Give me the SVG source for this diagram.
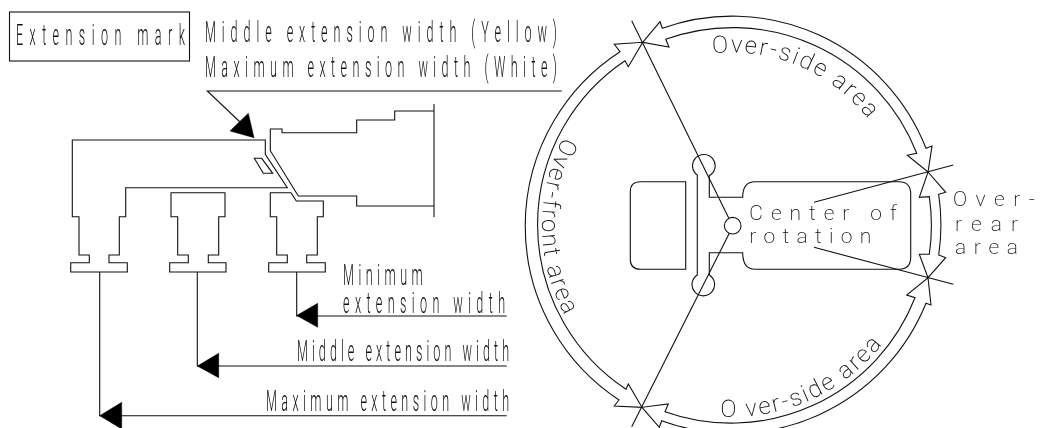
<svg xmlns="http://www.w3.org/2000/svg" width="1043" height="428" viewBox="0 0 1043 428">
<style>
.l{fill:none;stroke:#111;stroke-width:1.1}
.a{fill:#000;stroke:#000;stroke-width:.5}
.t{filter:url(#gray)}
text{font-family:Roboto,"Liberation Sans",sans-serif;font-weight:300;fill:#111}
.n{font-size:30px}
.w{font-size:24px;font-weight:200;letter-spacing:2.1px}
.c{font-size:21px;font-weight:200}
</style>
<defs><filter id="gray" filterUnits="userSpaceOnUse" x="0" y="0" width="1043" height="428" color-interpolation-filters="sRGB"><feOffset dx="0" dy="0"/></filter></defs>
<rect width="1043" height="428" fill="#fff"/>
<g id="extension-mark-box" class="t">
<rect class="l" x="9.5" y="12" width="180" height="49"/>
<text class="n" transform="translate(16,45) scale(.42,1)" textLength="402" lengthAdjust="spacing">Extension mark</text>
</g>
<g id="mark-labels" class="t">
<text class="n" transform="translate(205,41.7) scale(.42,1)" textLength="838" lengthAdjust="spacing">Middle extension width (Yellow)</text>
<text class="n" transform="translate(205,76.7) scale(.42,1)" textLength="838" lengthAdjust="spacing">Maximum extension width (White)</text>
</g>
<g id="width-labels" class="t">
<text class="n" transform="translate(343,285) scale(.42,1)" textLength="190" lengthAdjust="spacing">Minimum</text>
<text class="n" transform="translate(343,312.7) scale(.42,1)" textLength="386" lengthAdjust="spacing">extension width</text>
<text class="n" transform="translate(297,361) scale(.42,1)" textLength="505" lengthAdjust="spacing">Middle extension width</text>
<text class="n" transform="translate(266,411) scale(.42,1)" textLength="579" lengthAdjust="spacing">Maximum extension width</text>
</g>
<g id="machine-side">
<path class="l" d="M79 216.700H72.300V140H265.300V154.300L287.300 187.700H125.700V216.700H119.300V255H109V262.700H127.300V272H70.700V262.700H89.300V255H79Z"/>
<path class="l" d="M171 192.700H225V216.700H218.700V255H208.300V262.700H226V272H169.700V262.700H188.300V255H177.700V216.700H171Z"/>
<path class="l" d="M270.300 192.700H291L296.300 201H323.300V216.700H317.300V255H306.700V262.700H325.300V272H268.700V262.700H287.300V255H276.700V216.700H270.300Z"/>
<path class="l" d="M434 111H394.700V120H356.700V132.700H282V129H270.300V150.700L298.300 196H356.700V206H434"/>
<path class="l" d="M434 104V217"/>
<path class="l" d="M254.300 158.300H261.700L272.700 173.300H263.300Z"/>
</g>
<g id="machine-plan" class="t">
<path class="l" d="M685.700 181.700H640.300Q630.300 181.700 630.300 191.700V259.300Q630.300 269.300 640.300 269.300H685.700Z"/>
<path class="l" d="M697.300 175A11.300 11.300 0 1 1 709.300 175.700V197.300H742.700Q742.700 181.700 755 181.700H898.700Q910.700 181.700 910.700 193.700V257.300Q910.700 269.300 898.700 269.300H755Q742.700 269.300 742.700 252.700H709.300V275A11.300 11.300 0 1 1 697.300 275Z"/>
<circle class="l" cx="732.700" cy="225.700" r="8.300"/>
<text class="c" x="749.300" y="220" textLength="147.400" lengthAdjust="spacing">Center of</text>
<text class="c" x="749.300" y="243.300" textLength="122" lengthAdjust="spacing">rotation</text>
</g>
<g id="areas" class="t">
<path class="l" d="M662.300 28.300L660 21.700L642.700 42.300L669 47L665.700 39.300A197.500 197.500 0 0 1 916.700 153.300L907.300 155.300L928 172L932 146L926 148.300A208 208 0 0 0 662.300 28.300Z"/>
<path class="l" d="M938.700 194.300L945.700 192.300L928 172L919.300 197.300L929.300 196.700A197.500 197.500 0 0 1 929.300 254.300L919.300 254.300L928 277.700L945.700 257.700L938.700 255A208 208 0 0 0 938.700 194.300Z"/>
<path class="l" d="M620 51.700L614.300 44.300L642.700 42.300L628.300 66.700L625 60.700A197.500 197.500 0 0 0 626 389.300L628.300 384L642 407.300L614.300 406L619 400A208 208 0 0 1 620 51.700Z"/>
<path class="l" d="M665 411.700L668.300 404L642 407.300L659.300 427.300L661.700 420.700A208 208 0 0 0 926 303.300L931 305L928 277.700L906.700 295L915 297.700A197.500 197.500 0 0 1 665 411.700Z"/>
<path id="p1" fill="none" d="M712.500 53.600A172.500 172.500 0 0 1 873.300 126"/>
<path id="p2" fill="none" d="M720.300 416.600A192 192 0 0 0 898 321"/>
<path id="p3" fill="none" d="M563.500 137.300A190 190 0 0 0 576.400 334"/>
<text class="w"><textPath href="#p1">Over-side area</textPath></text>
<text class="w"><textPath href="#p2">O ver-side area</textPath></text>
<text class="w"><textPath href="#p3">Over-front area</textPath></text>
<text class="c" x="953" y="205.700" textLength="82" lengthAdjust="spacing">Over-</text>
<text class="c" x="955" y="231" textLength="63" lengthAdjust="spacing">rear</text>
<text class="c" x="955" y="254" textLength="63" lengthAdjust="spacing">area</text>
</g>
<g id="connectors">
<path class="l" d="M561.700 91H207.300L240 122"/>
<path class="a" d="M254 137.700L230 131L248.300 113.300Z"/>
<path class="l" d="M99.700 272V415.700H506.700M197.300 272V366H506.700M296.700 272V316H506.700"/>
<path class="a" d="M99.700 415.700L121.700 402.300V429ZM197.300 366L218.700 353.300V377.700ZM296.700 315.500L317.700 303.300V327.300Z"/>
<path class="l" d="M631.700 20.700L728.700 218M729.300 233.300L631.700 426.700M814 202.300L953.300 165M814 247.300L953.300 284.300"/>
</g>
</svg>
